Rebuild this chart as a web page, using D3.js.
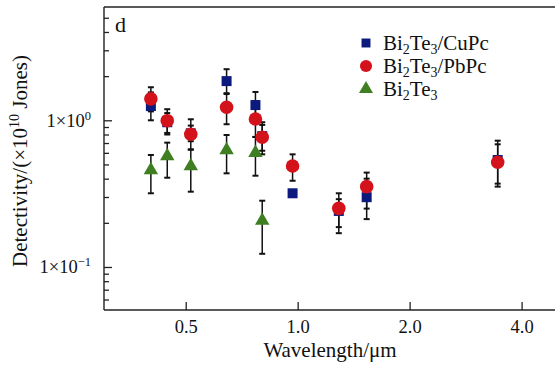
<!DOCTYPE html>
<html>
<head>
<meta charset="utf-8">
<script src="https://cdn.jsdelivr.net/npm/d3@7"></script>
<style>
  body { margin: 0; background: #fff; }
  svg { display: block; font-family: "Liberation Serif", "Times New Roman", serif; }
</style>
</head>
<body>
<div id="chart"></div>
<script>
// data
const wavelengths = [0.403, 0.446, 0.516, 0.644, 0.770, 0.803, 0.969, 1.29, 1.533, 3.45];

const cuPc     = [1.25, 0.97, 0.815, 1.85, 1.27, 0.78, 0.318, 0.241, 0.299, 0.536];
const cuPcLow  = [1.00, 0.82, 0.72, 1.53, 1.02, 0.62, 0.312, 0.187, 0.212, 0.353];
const cuPcHigh = [1.55, 1.12, 0.92, 2.23, 1.56, 0.93, 0.324, 0.290, 0.400, 0.686];

const pbPc     = [1.40, 0.994, 0.803, 1.226, 1.02, 0.766, 0.488, 0.251, 0.353, 0.517];
const pbPcLow  = [1.15, 0.80, 0.63, 0.94, 0.77, 0.586, 0.387, 0.170, 0.250, 0.370];
const pbPcHigh = [1.68, 1.19, 1.016, 1.51, 1.35, 0.97, 0.586, 0.318, 0.440, 0.726];

const bareWavelengths = [0.403, 0.446, 0.516, 0.644, 0.770, 0.803];
const bare     = [0.458, 0.571, 0.488, 0.627, 0.601, 0.207];
const bareLow  = [0.318, 0.406, 0.326, 0.435, 0.419, 0.123];
const bareHigh = [0.580, 0.704, 0.634, 0.794, 0.770, 0.283];

const xTicks = [0.5, 1.0, 2.0, 4.0];
const xTickLabels = ['0.5', '1.0', '2.0', '4.0'];
const yMajor = [0.1, 1];
const yMajorExp = ['\u22121', '0'];

// container
const width = 555;
const height = 367;

const svg = d3.select('#chart')
    .append('svg')
    .attr('width', width)
    .attr('height', height);

const plot = { left: 104, top: 7, right: 556, bottom: 310 };

// scales
const x = d3.scaleLog()
    .domain([0.3015, 4.95])
    .range([plot.left, plot.right]);

const y = d3.scaleLog()
    .domain([0.0509, 5.92])
    .range([plot.bottom, plot.top]);

// frame (top border)
svg.append('line')
    .attr('x1', plot.left).attr('x2', width + 5)
    .attr('y1', plot.top).attr('y2', plot.top)
    .attr('stroke', '#222').attr('stroke-width', 1.4);

// y minor ticks
let yMinor = [];
for (let e = -2; e <= 0; e++) {
    for (let m = 2; m <= 9; m++) {
        const v = m * Math.pow(10, e);
        if (v > y.domain()[0] && v < y.domain()[1]) yMinor.push(v);
    }
}

svg.append('g')
    .attr('transform', `translate(${plot.left},0)`)
    .call(d3.axisLeft(y).tickValues(yMinor).tickSize(-5).tickSizeOuter(0).tickFormat(''))
    .call(g => g.select('.domain').remove())
    .call(g => g.selectAll('line').attr('stroke', '#222').attr('stroke-width', 1.3));

// y axis with major ticks
const yAxisGroup = svg.append('g')
    .attr('transform', `translate(${plot.left},0)`)
    .call(d3.axisLeft(y).tickValues(yMajor).tickSize(-8).tickSizeOuter(0).tickPadding(13).tickFormat(''));

yAxisGroup.select('.domain').attr('stroke', '#222').attr('stroke-width', 1.4)
    .attr('d', `M0,${plot.top}V${plot.bottom}`);
yAxisGroup.selectAll('line').attr('stroke', '#222').attr('stroke-width', 1.3);
yAxisGroup.selectAll('text')
    .attr('font-size', 18.5)
    .attr('fill', '#111')
    .attr('font-family', '"Liberation Serif", serif')
    .each(function(d, i) {
        const t = d3.select(this);
        t.append('tspan').text('1\u00d710');
        t.append('tspan').attr('font-size', 12.5).attr('dy', -7).text(yMajorExp[i]);
    });

// x axis
const xAxisGroup = svg.append('g')
    .attr('transform', `translate(0,${plot.bottom})`)
    .call(d3.axisBottom(x).tickValues(xTicks).tickSize(-8).tickSizeOuter(0).tickPadding(10)
        .tickFormat((d, i) => xTickLabels[i]));

xAxisGroup.select('.domain').attr('stroke', '#222').attr('stroke-width', 1.4)
    .attr('d', `M${plot.left},0H${width + 5}`);
xAxisGroup.selectAll('line').attr('stroke', '#222').attr('stroke-width', 1.3);
xAxisGroup.selectAll('text')
    .attr('font-size', 18.5)
    .attr('fill', '#111')
    .attr('font-family', '"Liberation Serif", serif');

// axis titles
svg.append('text')
    .attr('x', 330).attr('y', 357)
    .attr('text-anchor', 'middle')
    .attr('font-size', 21)
    .attr('fill', '#111')
    .text('Wavelength/\u03bcm');

const yTitle = svg.append('text')
    .attr('transform', 'translate(27,161) rotate(-90)')
    .attr('text-anchor', 'middle')
    .attr('font-size', 21)
    .attr('fill', '#111');
yTitle.append('tspan').text('Detectivity/(\u00d710');
yTitle.append('tspan').attr('font-size', 14).attr('dy', -8).text('10');
yTitle.append('tspan').attr('dy', 8).text(' Jones)');

// panel letter
svg.append('text')
    .attr('x', 115).attr('y', 32)
    .attr('font-size', 22)
    .attr('fill', '#111')
    .text('d');

// series
const colors = { cuPc: '#0b1a7c', pbPc: '#d4121b', bare: '#3f7f22' };

const series = [
    { key: 'cuPc', xs: wavelengths, v: cuPc, lo: cuPcLow, hi: cuPcHigh, shape: d3.symbolSquare, size: 100 },
    { key: 'pbPc', xs: wavelengths, v: pbPc, lo: pbPcLow, hi: pbPcHigh, shape: d3.symbolCircle, size: 145 },
    { key: 'bare', xs: bareWavelengths, v: bare, lo: bareLow, hi: bareHigh, shape: d3.symbolTriangle, size: 90 }
];

const barsGroup = svg.append('g').classed('errorbars', true);
const pointsGroup = svg.append('g').classed('points', true);

series.forEach(s => {
    const rows = s.v.map((v, i) => ({ x: s.xs[i], v: v, lo: s.lo[i], hi: s.hi[i] }));

    const bars = barsGroup.selectAll(`.bar-${s.key}`)
        .data(rows)
        .enter()
        .append('g')
        .attr('class', `bar-${s.key}`)
        .attr('stroke', '#111')
        .attr('stroke-width', 1.5);

    bars.append('line')
        .attr('x1', d => x(d.x)).attr('x2', d => x(d.x))
        .attr('y1', d => y(d.lo)).attr('y2', d => y(d.hi));
    bars.append('line')
        .attr('stroke-width', 2)
        .attr('x1', d => x(d.x) - 3).attr('x2', d => x(d.x) + 3)
        .attr('y1', d => y(d.lo)).attr('y2', d => y(d.lo));
    bars.append('line')
        .attr('stroke-width', 2)
        .attr('x1', d => x(d.x) - 3).attr('x2', d => x(d.x) + 3)
        .attr('y1', d => y(d.hi)).attr('y2', d => y(d.hi));

    s.rows = rows;
});

// draw triangles first, then squares, then circles on top
[series[2], series[0], series[1]].forEach(s => {
    pointsGroup.selectAll(`.pt-${s.key}`)
        .data(s.rows)
        .enter()
        .append('path')
        .attr('class', `pt-${s.key}`)
        .attr('d', d3.symbol().type(s.shape).size(s.size))
        .attr('transform', d => `translate(${x(d.x)},${y(d.v)})`)
        .attr('fill', colors[s.key]);
});

// legend
const legendItems = [
    { key: 'cuPc', shape: d3.symbolSquare, size: 80, suffix: '/CuPc' },
    { key: 'pbPc', shape: d3.symbolCircle, size: 115, suffix: '/PbPc' },
    { key: 'bare', shape: d3.symbolTriangle, size: 85, suffix: '' }
];

const legend = svg.append('g').attr('transform', 'translate(366,43)');
legendItems.forEach((item, i) => {
    const row = legend.append('g').attr('transform', `translate(0,${i * 23})`);
    row.append('path')
        .attr('d', d3.symbol().type(item.shape).size(item.size))
        .attr('fill', colors[item.key]);
    const t = row.append('text')
        .attr('x', 17).attr('y', 7)
        .attr('font-size', 21)
        .attr('fill', '#111');
    t.append('tspan').text('Bi');
    t.append('tspan').attr('font-size', 14).attr('dy', 4).text('2');
    t.append('tspan').attr('dy', -4).text('Te');
    t.append('tspan').attr('font-size', 14).attr('dy', 4).text('3');
    if (item.suffix) t.append('tspan').attr('dy', -4).text(item.suffix);
});
</script>
</body>
</html>
